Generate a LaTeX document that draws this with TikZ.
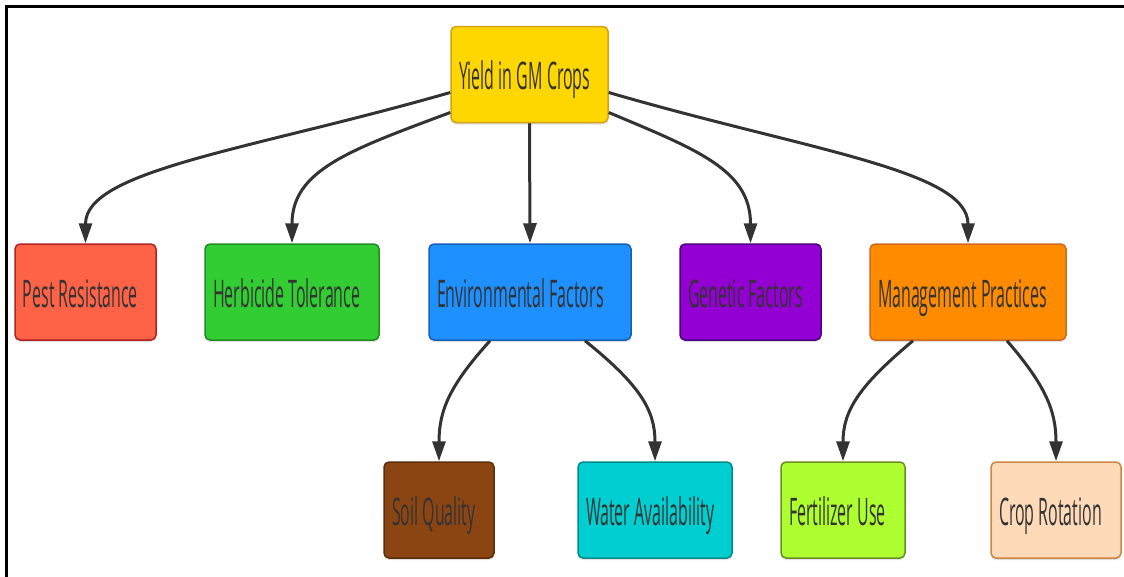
\documentclass[tikz,border=0pt]{standalone}
\usepackage{fontspec}
\setmainfont{Open Sans}[FakeStretch=0.42]
\usetikzlibrary{arrows.meta,calc,shadows}

\definecolor{inkgray}{HTML}{333333}
\definecolor{goldfill}{HTML}{FFD700}
\definecolor{goldline}{HTML}{D4A017}
\definecolor{pestfill}{HTML}{FF6347}
\definecolor{pestline}{HTML}{B22222}
\definecolor{herbfill}{HTML}{32CD32}
\definecolor{herbline}{HTML}{228B22}
\definecolor{envfill}{HTML}{1E90FF}
\definecolor{envline}{HTML}{1560BD}
\definecolor{genfill}{HTML}{9400D3}
\definecolor{genline}{HTML}{4B0082}
\definecolor{manfill}{HTML}{FF8C00}
\definecolor{manline}{HTML}{D2691E}
\definecolor{soilfill}{HTML}{8B4513}
\definecolor{soilline}{HTML}{5C2E0B}
\definecolor{waterfill}{HTML}{00CED1}
\definecolor{waterline}{HTML}{008B8B}
\definecolor{fertfill}{HTML}{ADFF2F}
\definecolor{fertline}{HTML}{6B8E23}
\definecolor{cropfill}{HTML}{FFDAB9}
\definecolor{cropline}{HTML}{CD853F}

\tikzset{
  box/.style={draw, rounded corners=5pt, line width=1.5pt, minimum height=96pt,
    inner xsep=8pt, align=flush left, text=inkgray, font=\fontsize{38}{40}\selectfont,
    text height=30pt, text depth=0pt,
    drop shadow={shadow xshift=0pt, shadow yshift=-2pt, opacity=0.25}},
  link/.style={draw=inkgray, line width=3pt, -{Triangle[length=20pt,width=13pt]}}
}

\begin{document}
\begin{tikzpicture}[x=1pt,y=-1pt]
                \useasboundingbox (0,0) rectangle (1124,576);
                \draw[line width=2.5pt] (6.5,580) -- (6.5,6.5) -- (1130,6.5);

                \node[box, fill=goldfill, draw=goldline, text width=141pt] (yield) at (529.5,74.5) {Yield in GM Crops};

                \node[box, fill=pestfill, draw=pestline, text width=125pt] (pest) at (85.5,292) {Pest Resistance};
                \node[box, fill=herbfill, draw=herbline, text width=158pt] (herb) at (292,292) {Herbicide Tolerance};
                \node[box, fill=envfill, draw=envline, text width=186pt] (env) at (530,292) {Environmental Factors};
                \node[box, fill=genfill, draw=genline, text width=125pt] (gen) at (750.5,292) {Genetic Factors};
                \node[box, fill=manfill, draw=manline, text width=180pt] (man) at (968,292) {Management Practices};

                \node[box, fill=soilfill, draw=soilline, text width=94pt] (soil) at (439,510) {Soil Quality};
                \node[box, fill=waterfill, draw=waterline, text width=138pt] (water) at (655,510) {Water Availability};
                \node[box, fill=fertfill, draw=fertline, text width=108pt] (fert) at (843,510) {Fertilizer Use};
                \node[box, fill=cropfill, draw=cropline, text width=114pt] (crop) at (1056,510) {Crop Rotation};

                \draw[link] ($(yield.west)+(0,18)$) .. controls (250,150) and (85.5,170) .. (pest.north);
                \draw[link] ($(yield.west)+(0,38)$) .. controls (350,150) and (292,170) .. (herb.north);
                \draw[link] (yield.south) -- (env.north);
                \draw[link] ($(yield.east)+(0,38)$) .. controls (698,150) and (750.5,170) .. (gen.north);
                \draw[link] ($(yield.east)+(0,18)$) .. controls (806,150) and (968,170) .. (man.north);

                \draw[link] ($(env.south)+(-40,0)$) .. controls (450,385) and (439,410) .. (soil.north);
                \draw[link] ($(env.south)+(55,0)$) .. controls (640,385) and (655,410) .. (water.north);
                \draw[link] ($(man.south)+(-55,0)$) .. controls (860,385) and (843,410) .. (fert.north);
                \draw[link] ($(man.south)+(39,0)$) .. controls (1045,385) and (1056,410) .. (crop.north);
\end{tikzpicture}
\end{document}
